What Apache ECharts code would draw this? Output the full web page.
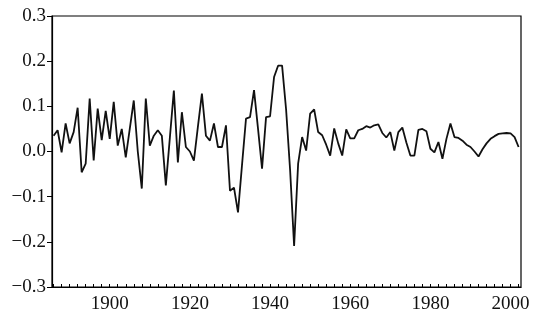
<!DOCTYPE html>
<html>
<head>
<meta charset="utf-8">
<script src="https://cdn.jsdelivr.net/npm/echarts@6/dist/echarts.min.js"></script>
<style>
  html, body { margin: 0; padding: 0; background: #fff; }
</style>
</head>
<body>
<div id="main" style="width:534px;height:311px;"></div>
<script type="text/javascript">
// annual values, first year 1886
var firstYear = 1886;
var values = [
    0.035, 0.047, -0.002, 0.062,
    0.018, 0.043, 0.097, -0.046, -0.027, 0.117, -0.02, 0.095, 0.025, 0.09,
    0.028, 0.11, 0.013, 0.05, -0.013, 0.05, 0.113, 0.0, -0.082, 0.117,
    0.013, 0.035, 0.047, 0.035, -0.075, 0.03, 0.135, -0.024, 0.087, 0.01,
    0.0, -0.02, 0.055, 0.128, 0.035, 0.024, 0.062, 0.01, 0.01, 0.058,
    -0.087, -0.08, -0.135, -0.03, 0.073, 0.076, 0.136, 0.05, -0.038, 0.076,
    0.078, 0.165, 0.19, 0.19, 0.093, -0.041, -0.209, -0.027, 0.032, 0.002,
    0.084, 0.093, 0.043, 0.036, 0.015, -0.009, 0.051, 0.018, -0.009, 0.049,
    0.029, 0.029, 0.047, 0.05, 0.056, 0.053, 0.058, 0.06, 0.041, 0.031,
    0.043, 0.002, 0.043, 0.053, 0.02, -0.009, -0.009, 0.048, 0.05, 0.045,
    0.006, -0.002, 0.021, -0.016, 0.028, 0.062, 0.032, 0.03, 0.024, 0.015,
    0.01, 0.0, -0.011, 0.005, 0.018, 0.028, 0.034, 0.039, 0.04, 0.041,
    0.04, 0.032, 0.01
];
var xLabels = [1900, 1920, 1940, 1960, 1980, 2000];
var xTicks = [];
for (var t = 1886; t <= 2002; t += 2) xTicks.push(t);

var seriesData = values.map(function (v, i) {
    return [firstYear + i, v];
});

var fontFam = '"Liberation Serif", "DejaVu Serif", serif';
var myChart = echarts.init(document.getElementById('main'));
var option = {
    animation: false,
    backgroundColor: '#fff',
    grid: {
        left: 52, right: 13, top: 16, bottom: 24,
        outerBoundsMode: 'none',
        show: true, borderColor: '#000', borderWidth: 1.2
    },
    xAxis: {
        type: 'value',
        min: 1885.6,
        max: 2002.6,
        axisLine: { onZero: false, lineStyle: { color: '#000', width: 1.2 } },
        axisTick: {
            customValues: xTicks,
            inside: true, length: 3,
            lineStyle: { color: '#000', width: 1 }
        },
        axisLabel: {
            customValues: xLabels,
            color: '#111', fontFamily: fontFam, fontSize: 19, margin: 8,
            formatter: function (v) { return String(v); }
        },
        splitLine: { show: false }
    },
    yAxis: {
        type: 'value',
        min: -0.3,
        max: 0.3,
        interval: 0.1,
        axisLine: { show: true, lineStyle: { color: '#000', width: 1.2 } },
        axisTick: { show: true, length: 5, lineStyle: { color: '#000', width: 1 } },
        axisLabel: {
            color: '#111', fontFamily: fontFam, fontSize: 19, margin: 6,
            formatter: function (v) {
                return v.toFixed(1).replace('-', '\u2212');
            }
        },
        splitLine: { show: false }
    },
    series: [{
        type: 'line',
        data: seriesData,
        showSymbol: false,
        lineStyle: { color: '#111', width: 1.8 }
    }]
};
myChart.setOption(option);
</script>
</body>
</html>
